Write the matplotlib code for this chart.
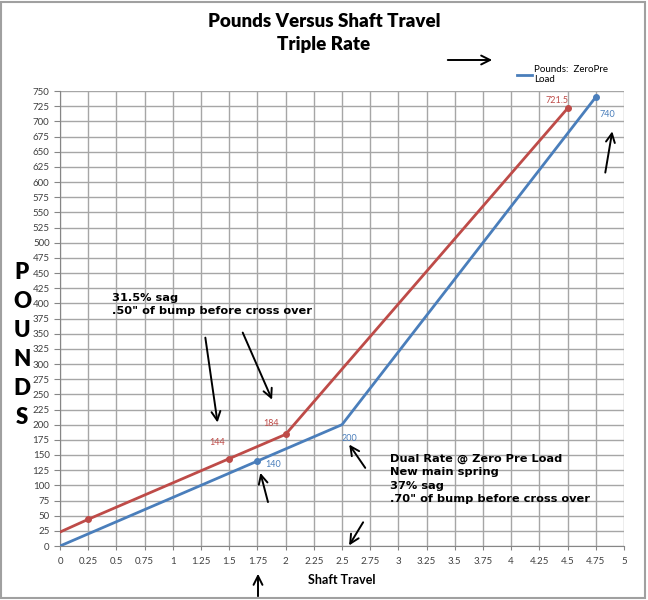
import matplotlib.pyplot as plt
from matplotlib.lines import Line2D
from matplotlib.patches import Rectangle

# data
blue_x = [0, 1.75, 2.5, 4.75]
blue_y = [0, 140, 200, 740]
red_x = [0, 0.25, 1.5, 2, 4.5]
red_y = [23, 44, 144, 184, 721.5]

x_ticks = [i * 0.25 for i in range(21)]
x_labels = ["0", "0.25", "0.5", "0.75", "1", "1.25", "1.5", "1.75", "2", "2.25", "2.5",
            "2.75", "3", "3.25", "3.5", "3.75", "4", "4.25", "4.5", "4.75", "5"]
y_ticks = list(range(0, 751, 25))

BLUE = "#4A7EBB"
RED = "#BE4B48"
W, H = 648, 600

fig = plt.figure(figsize=(6.48, 6.0), dpi=100)
ax = fig.add_axes([60 / W, 54 / H, 564 / W, 455 / H])

ax.plot(blue_x, blue_y, color=BLUE, lw=2, zorder=3)
ax.plot(red_x, red_y, color=RED, lw=2, zorder=3)
# markers only on some points
ax.plot([1.75, 4.75], [140, 740], "o", color=BLUE, ms=4, zorder=4)
ax.plot([0.25, 1.5, 2, 4.5], [44, 144, 184, 721.5], "o", color=RED, ms=4, zorder=4)

ax.set_xlim(0, 5)
ax.set_ylim(0, 750)
ax.set_xticks(x_ticks)
ax.set_xticklabels(x_labels)
ax.set_yticks(y_ticks)
ax.grid(True, color="#A6A6A6", lw=1)
ax.set_axisbelow(True)
for s in ["top", "right"]:
    ax.spines[s].set_visible(False)
for s in ["left", "bottom"]:
    ax.spines[s].set_color("#868686")
ax.tick_params(axis="both", labelsize=7, colors="#404040", length=4, color="#868686")
ax.tick_params(axis="x", length=3, pad=5)
for lab in ax.get_xticklabels() + ax.get_yticklabels():
    lab.set_family(["Lato", "DejaVu Sans"])

ax.set_xlabel("Shaft Travel", fontsize=9, fontweight="bold", family="Lato", labelpad=6)

# data labels
lab_kw = dict(textcoords="offset points", fontsize=6.5, family="Lato")
ax.annotate("721.5", (4.5, 721.5), xytext=(-16, 4), color=RED, **lab_kw)
ax.annotate("740", (4.75, 740), xytext=(3, -14), color=BLUE, **lab_kw)
ax.annotate("184", (2, 184), xytext=(-16, 6), color=RED, **lab_kw)
ax.annotate("144", (1.5, 144), xytext=(-14, 10), color=RED, **lab_kw)
ax.annotate("140", (1.75, 140), xytext=(6, -4), color=BLUE, **lab_kw)
ax.annotate("200", (2.5, 200), xytext=(0, -12), color=BLUE, **lab_kw)

# hand-drawn style arrows
arr = dict(arrowstyle="->", lw=1.4, color="black", mutation_scale=16)
arrows = [((4.83, 611), (4.9, 688)),
          ((1.285, 348), (1.4, 199)),
          ((1.61, 356), (1.89, 237)),
          ((1.85, 68), (1.77, 125)),
          ((2.72, 125), (2.55, 171)),
          ((2.7, 43), (2.55, -3))]
for start, end in arrows:
    ax.annotate("", xy=end, xytext=start, arrowprops=arr, annotation_clip=False)
ax.annotate("", xy=(495, H - 60), xytext=(445, H - 60), xycoords="figure pixels",
            arrowprops=arr)
ax.annotate("", xy=(258, H - 571), xytext=(258, H - 599), xycoords="figure pixels",
            arrowprops=arr)

note_kw = dict(fontsize=8.2, fontweight="bold", family="DejaVu Sans", va="top",
               linespacing=1.4)
fig.text(112 / W, 1 - 293 / H, "31.5% sag\n.50\" of bump before cross over", **note_kw)
fig.text(390 / W, 1 - 454 / H,
         "Dual Rate @ Zero Pre Load\nNew main spring\n37% sag\n.70\" of bump before cross over",
         **note_kw)

# title
fig.text(324 / W, 1 - 33 / H, "Pounds Versus Shaft Travel\nTriple Rate", ha="center",
         va="center", fontsize=13.5, fontweight="heavy", family="Lato", linespacing=1.45)

# vertical y label
fig.text(22 / W, 1 - 345 / H, "P\nO\nU\nN\nD\nS", ha="center", va="center",
         fontsize=16, fontweight="heavy", family="Lato", linespacing=1.48)

# legend (blue series only)
h = Line2D([], [], color=BLUE, lw=2)
fig.legend(handles=[h], labels=["Pounds:  ZeroPre\nLoad"], loc="upper left",
           bbox_to_anchor=(508 / W, 1 - 56 / H), frameon=False,
           handlelength=1.6, handletextpad=0.2, prop={"family": "Lato", "size": 7})

# outer frame
fig.add_artist(Rectangle((1 / W, 2 / H), 1 - 4 / W, 1 - 4 / H, transform=fig.transFigure,
                         fill=False, ec="#A0A0A0", lw=1.5))

fig.savefig("out.png", dpi=100)
